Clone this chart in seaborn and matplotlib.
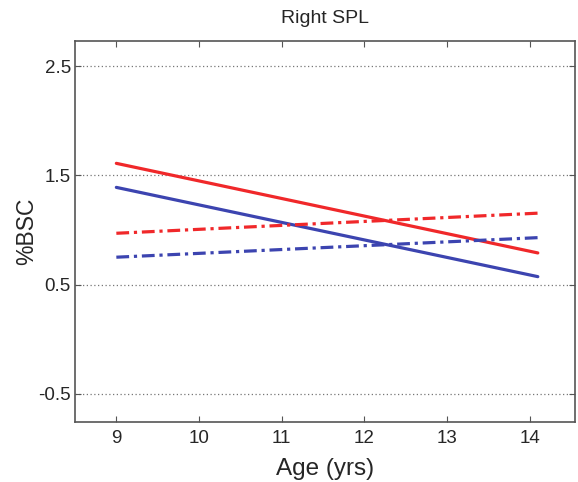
import pandas as pd
import matplotlib
matplotlib.use("Agg")
import matplotlib.pyplot as plt
import seaborn as sns

# fitted lines (end points of each regression line)
age = [9.0, 14.1]
red_solid = [1.61, 0.79]
blue_solid = [1.39, 0.573]
red_dash = [0.97, 1.154]
blue_dash = [0.751, 0.93]

x_ticks = [9, 10, 11, 12, 13, 14]
y_ticks = [-0.5, 0.5, 1.5, 2.5]

sns.set_style("ticks")
plt.rcParams['font.family'] = ['Liberation Sans', 'DejaVu Sans']

rows = []
for name, vals in [("red_solid", red_solid), ("blue_solid", blue_solid),
                   ("red_dash", red_dash), ("blue_dash", blue_dash)]:
    for a, v in zip(age, vals):
        rows.append({"age": a, "bsc": v, "series": name})
df = pd.DataFrame(rows)

fig = plt.figure(figsize=(5.78, 4.82), dpi=100)
ax = fig.add_axes([0.1298, 0.125, 0.865, 0.790])

red = "#f0282a"
blue = "#3c44b0"
styles = {
    "red_solid": (red, "-"),
    "blue_solid": (blue, "-"),
    "red_dash": (red, (0, (4, 1.5, 1, 1.5))),
    "blue_dash": (blue, (0, (4, 1.5, 1, 1.5))),
}
for name, (col, ls) in styles.items():
    sns.lineplot(data=df[df.series == name], x="age", y="bsc", color=col,
                 linestyle=ls, linewidth=2.3, ax=ax)

for y in y_ticks:
    ax.axhline(y, color="#777777", linestyle=(0, (1, 2)), linewidth=0.9, zorder=0)

ax.set_xlim(8.5, 14.55)
ax.set_ylim(-0.755, 2.73)
ax.set_xticks(x_ticks)
ax.set_yticks(y_ticks)
ax.set_yticklabels([str(y) for y in y_ticks])
ax.tick_params(direction="in", top=True, right=True, labelsize=13.5,
               length=4, color="#555555", pad=3)
ax.tick_params(axis="x", pad=6)
for s in ax.spines.values():
    s.set_color("#555555")
    s.set_linewidth(1.2)

ax.set_title("Right SPL", fontsize=14, pad=13)
ax.set_xlabel("Age (yrs)", fontsize=17.5, labelpad=8)
ax.set_ylabel("%BSC", fontsize=16.5, labelpad=0)

fig.savefig("out.png", dpi=100)
